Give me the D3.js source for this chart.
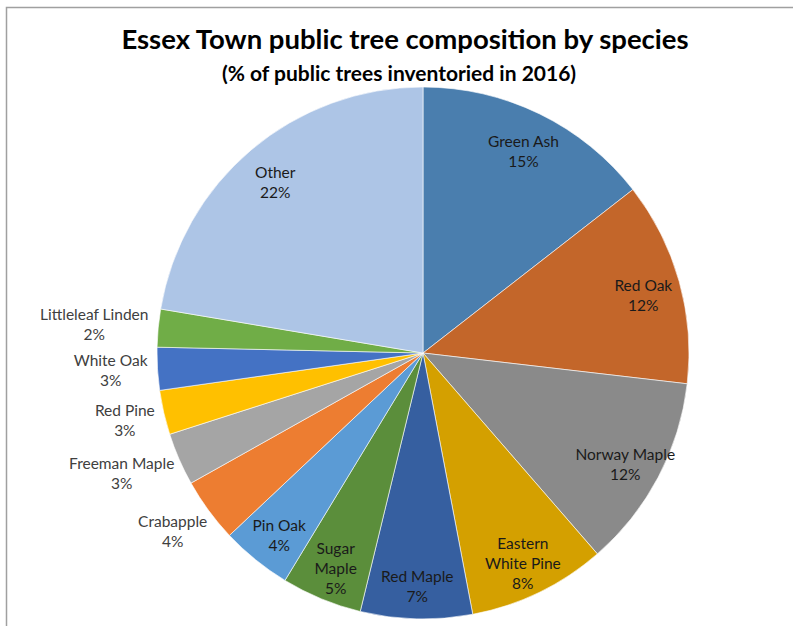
<!DOCTYPE html>
<html>
<head>
<meta charset="utf-8">
<script src="https://cdn.jsdelivr.net/npm/d3@7"></script>
<style>
  body { margin: 0; background: #fff; }
  text { font-family: Lato, "Open Sans", sans-serif; }
</style>
</head>
<body>
<svg id="chart"></svg>
<script>
const species = ['Green Ash', 'Red Oak', 'Norway Maple', 'Eastern White Pine', 'Red Maple',
  'Sugar Maple', 'Pin Oak', 'Crabapple', 'Freeman Maple', 'Red Pine', 'White Oak',
  'Littleleaf Linden', 'Other']
const shares = [14.5, 12.4, 11.8, 8.4, 6.8, 4.9, 4.3, 3.9, 3.2, 2.7, 2.6, 2.3, 22.4]
const colors = ['#4a7eae', '#c3662a', '#8a8a8a', '#d4a000', '#365fa0', '#5b8e3b', '#5b9bd5',
  '#ed7d31', '#a5a5a5', '#ffc000', '#4472c4', '#70ad47', '#adc5e6']
const title = 'Essex Town public tree composition by species'
const subtitle = '(% of public trees inventoried in 2016)'

// names that Excel wrapped inside their slice
const wrap = { 'Sugar Maple': ['Sugar', 'Maple'], 'Eastern White Pine': ['Eastern', 'White Pine'] }

const width = 793
const height = 626
const cx = 423
const cy = 353
const radius = 266
const lineH = 20

const svg = d3.select('#chart')
  .attr('width', width)
  .attr('height', height)

// chart frame (only top/left edges are visible in the crop)
svg.append('rect')
  .attr('x', 6.5).attr('y', 7.5)
  .attr('width', width + 10).attr('height', height + 10)
  .attr('fill', 'none')
  .attr('stroke', '#a0a0a0')
  .attr('stroke-width', 1.5)

svg.append('text')
  .attr('x', 405).attr('y', 49)
  .attr('text-anchor', 'middle')
  .attr('font-size', 27.5)
  .attr('font-weight', 'bold')
  .attr('fill', '#000')
  .text(title)

svg.append('text')
  .attr('x', 399).attr('y', 81)
  .attr('text-anchor', 'middle')
  .attr('font-size', 21)
  .attr('font-weight', 'bold')
  .attr('fill', '#000')
  .text(subtitle)

const data = species.map((name, i) => ({ name, value: shares[i], color: colors[i] }))

const pie = d3.pie()
  .sort(null)
  .value(d => d.value)
  .startAngle(0)
  .endAngle(2 * Math.PI)

const arc = d3.arc().innerRadius(0).outerRadius(radius)

const g = svg.append('g').attr('transform', `translate(${cx},${cy})`)

const arcs = pie(data)

g.selectAll('path')
  .data(arcs)
  .join('path')
  .attr('d', arc)
  .attr('fill', d => d.data.color)
  .attr('stroke', '#fff')
  .attr('stroke-width', 0.6)

const labels = g.selectAll('g.label')
  .data(arcs)
  .join('g')
  .attr('class', 'label')

labels.each(function (d) {
  const sel = d3.select(this)
  const lines = (wrap[d.data.name] || [d.data.name]).concat([Math.round(d.data.value) + '%'])
  const outside = d.data.value < 4
  const txt = sel.append('text')
    .attr('text-anchor', 'middle')
    .attr('font-size', 15.5)
    .attr('fill', outside ? '#404040' : '#1a1a1a')
  lines.forEach((l, i) => {
    txt.append('tspan')
      .attr('x', 0)
      .attr('y', (i - (lines.length - 1) / 2) * lineH + 5)
      .text(l)
  })
  const a = (d.startAngle + d.endAngle) / 2
  let x, y
  if (outside) {
    const bb = txt.node().getBBox()
    const r = radius + 10
    x = r * Math.sin(a) + (bb.width / 2) * Math.sin(a)
    y = -r * Math.cos(a) - (lines.length * lineH / 2 + 6) * Math.cos(a)
  } else {
    const r = radius * 0.86
    x = r * Math.sin(a)
    y = -r * Math.cos(a) + 5
  }
  sel.attr('transform', `translate(${x},${y})`)
})
</script>
</body>
</html>
